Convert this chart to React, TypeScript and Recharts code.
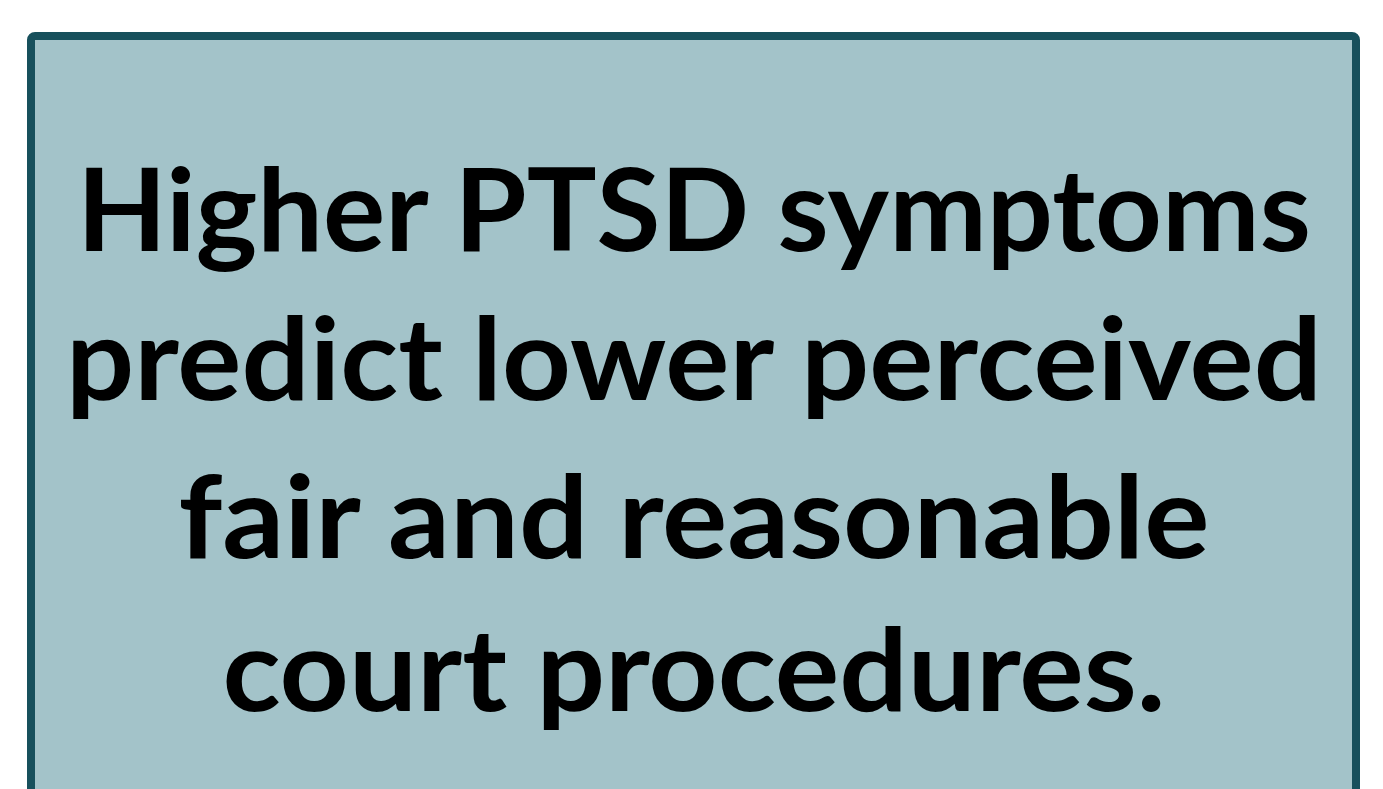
import React from 'react';
import { Surface, Rectangle } from 'recharts';

// text lines of the slide box
const lines = [
  'Higher PTSD symptoms',
  'predict lower perceived',
  'fair and reasonable',
  'court procedures.',
];
// baselines and ink widths
const baselines = [251, 400, 558, 711];
const widths = [1234, 1256, 1031, 943];

const W = 1383;
const H = 789;

const App: React.FC = () => {
  return (
    <div style={{ position: 'absolute', left: 0, top: 0, width: W, height: H, background: '#fff' }}>
      <Surface width={W} height={H}>
        <Rectangle
          x={31}
          y={36}
          width={1325}
          height={820}
          radius={4}
          fill="#A3C3C9"
          stroke="#17505C"
          strokeWidth={8}
          isAnimationActive={false}
        />
        {lines.map((t, i) => (
          <text
            key={t}
            x={694}
            y={baselines[i]}
            textAnchor="middle"
            fontFamily="Lato, 'Open Sans', sans-serif"
            fontWeight={700}
            fontSize={114}
            fill="#000"
            textLength={widths[i]}
            lengthAdjust="spacingAndGlyphs"
          >
            {t}
          </text>
        ))}
      </Surface>
    </div>
  );
};

export default App;
